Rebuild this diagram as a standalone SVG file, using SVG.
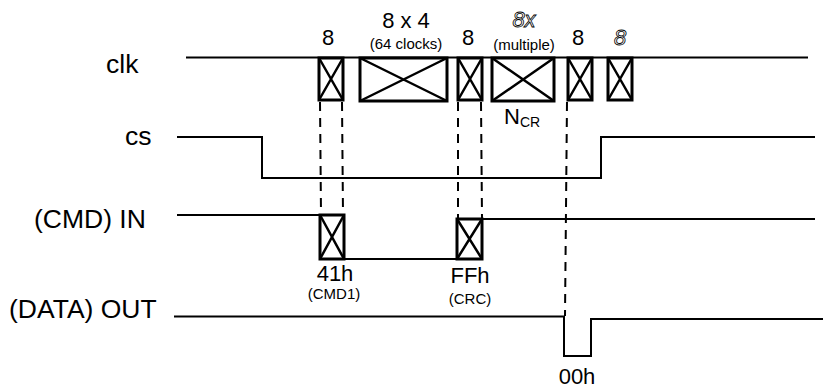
<svg xmlns="http://www.w3.org/2000/svg" width="827" height="389" viewBox="0 0 827 389">
<style>
text{font-family:"Liberation Sans",Arial,sans-serif;fill:#000}
.lbl{font-size:26.5px}
.num{font-size:22px;text-anchor:middle}
.sm{font-size:15px;text-anchor:middle}
.mid{font-size:22px;text-anchor:middle}
.it{font-size:22px;font-style:italic;text-anchor:middle;fill:#fff;stroke:#000;stroke-width:0.8}
.sig{fill:none;stroke:#000;stroke-width:2}
.box{fill:#fff;stroke:#000;stroke-width:3}
.x{stroke:#000;stroke-width:2.5}
.dash{stroke:#000;stroke-width:2;stroke-dasharray:9 7;fill:none}
</style>
<rect width="827" height="389" fill="#fff"/>
<defs>
<g id="xb"><rect class="box" x="0" y="0" width="24" height="42"/><path class="x" d="M0,0L24,42M24,0L0,42"/></g>
</defs>

<g id="guides">
<line class="dash" x1="320" y1="102" x2="321" y2="214"/>
<line class="dash" x1="342" y1="102" x2="343" y2="214"/>
<line class="dash" x1="458" y1="102" x2="458" y2="218"/>
<line class="dash" x1="481" y1="102" x2="482" y2="218"/>
<line class="dash" x1="567" y1="102" x2="565" y2="316"/>
</g>

<g id="clk">
<text class="lbl" x="106" y="73">clk</text>
<line class="sig" x1="186" y1="57.5" x2="808" y2="57.5"/>
<use href="#xb" x="319" y="58"/>
<g><rect class="box" x="360" y="58" width="87" height="43"/><path class="x" d="M360,58L447,101M447,58L360,101"/></g>
<use href="#xb" x="458" y="58"/>
<g><rect class="box" x="492" y="58" width="62" height="43"/><path class="x" d="M492,58L554,101M554,58L492,101"/></g>
<use href="#xb" x="568" y="58"/>
<use href="#xb" x="608" y="58"/>
<text class="num" x="328" y="45">8</text>
<text class="num" x="406" y="28">8 x 4</text>
<text class="sm" x="406" y="49">(64 clocks)</text>
<text class="num" x="468" y="45">8</text>
<text class="it" x="524" y="27">8x</text>
<text class="sm" x="524" y="50">(multiple)</text>
<text class="num" x="578" y="45">8</text>
<text class="it" x="620" y="45">8</text>
<text x="504" y="124" style="font-size:22px">N<tspan style="font-size:14px" dy="3">CR</tspan></text>
</g>

<g id="cs">
<text class="lbl" x="125" y="145">cs</text>
<path class="sig" d="M177,137H262V178H601V137H815"/>
</g>

<g id="cmd-in">
<text class="lbl" x="34" y="228">(CMD) IN</text>
<path class="sig" d="M177,215H319M344,259H456M483,219H815"/>
<g><rect class="box" x="320" y="215" width="24" height="44"/><path class="x" d="M320,215L344,259M344,215L320,259"/></g>
<g><rect class="box" x="457" y="219" width="25" height="40"/><path class="x" d="M457,219L482,259M482,219L457,259"/></g>
<text class="mid" x="335" y="281">41h</text>
<text class="sm" x="334" y="299">(CMD1)</text>
<text class="mid" x="470" y="283">FFh</text>
<text class="sm" x="470" y="304">(CRC)</text>
</g>

<g id="data-out">
<text class="lbl" x="9" y="318">(DATA) OUT</text>
<path class="sig" d="M174,316.5H564V356H591V319H823"/>
<text class="mid" x="577" y="384">00h</text>
</g>
</svg>
